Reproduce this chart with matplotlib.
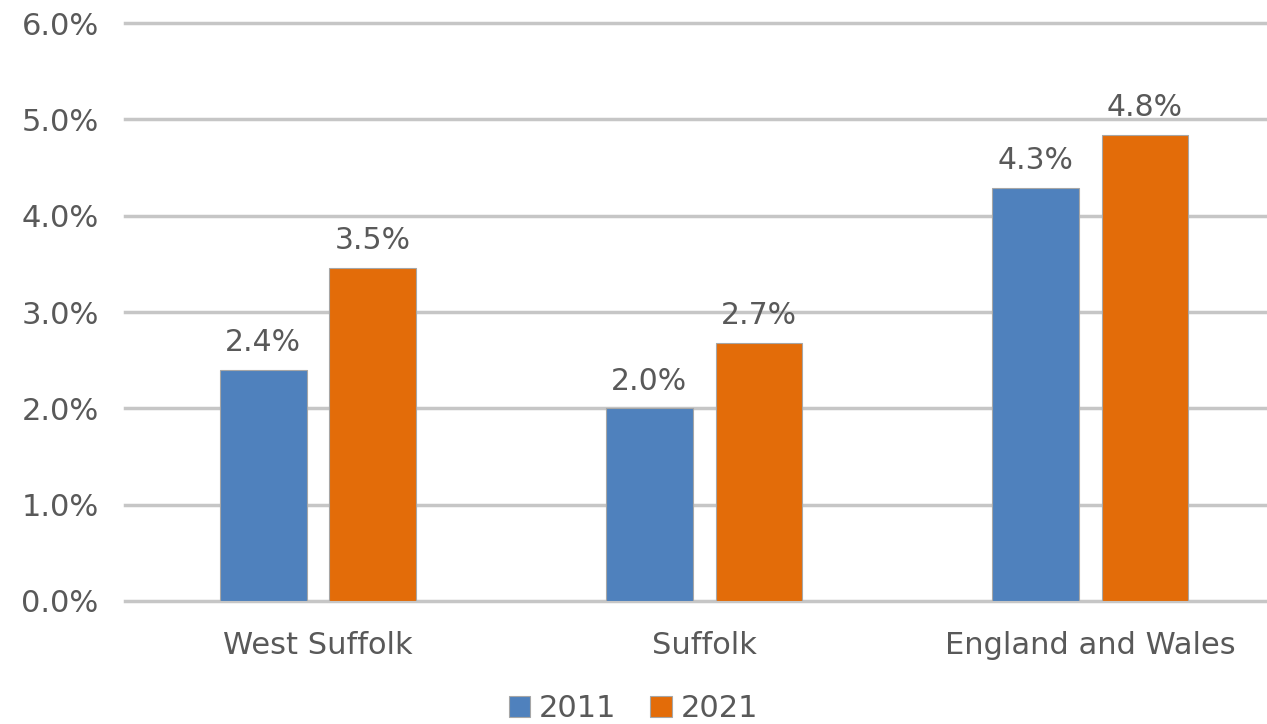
import numpy as np
import matplotlib.pyplot as plt

# Data (percent)
areas = ['West Suffolk', 'Suffolk', 'England and Wales']
years = ['2011', '2021']
pct_2011 = [2.40, 2.00, 4.29]
pct_2021 = [3.46, 2.68, 4.84]

colors = ['#4F81BD', '#E36C09']
text_col = '#595959'

fig = plt.figure(figsize=(12.67, 7.24), dpi=100)
ax = fig.add_axes([0.0987, 0.170, 0.9013, 0.798])

x = np.arange(len(areas))
w = 0.225
off = 0.142
for vals, dx, c, lab in [(pct_2011, -off, colors[0], years[0]),
                         (pct_2021, off, colors[1], years[1])]:
    bars = ax.bar(x + dx, vals, w, color=c, edgecolor='#A6A6A6',
                  linewidth=0.8, label=lab, zorder=3)
    for b, v in zip(bars, vals):
        ax.text(b.get_x() + b.get_width() / 2, v + 0.13, f'{v:.1f}%',
                ha='center', va='bottom', fontsize=21.5, color=text_col)

ax.set_xlim(-0.5, 2.458)
ax.set_ylim(0, 6)
ax.set_yticks(np.arange(0, 7, 1))
ax.set_yticklabels([f'{t:.1f}%' for t in range(7)])
ax.set_xticks(x)
ax.set_xticklabels(areas)
ax.tick_params(axis='both', length=0, labelsize=22, colors=text_col)
ax.tick_params(axis='y', pad=19)
ax.tick_params(axis='x', pad=22)
ax.yaxis.grid(True, color='#C6C6C6', linewidth=2.5, zorder=0)
for gl in ax.get_ygridlines():
    gl.set_clip_on(False)
for s in ax.spines.values():
    s.set_visible(False)
ax.set_axisbelow(True)

leg = fig.legend(loc='lower center', ncol=2, frameon=False, fontsize=22,
                 bbox_to_anchor=(0.5, -0.037), handlelength=0.7,
                 handleheight=0.7, handletextpad=0.3, columnspacing=1.1)
for t in leg.get_texts():
    t.set_color(text_col)

fig.savefig('out.png', dpi=100)
